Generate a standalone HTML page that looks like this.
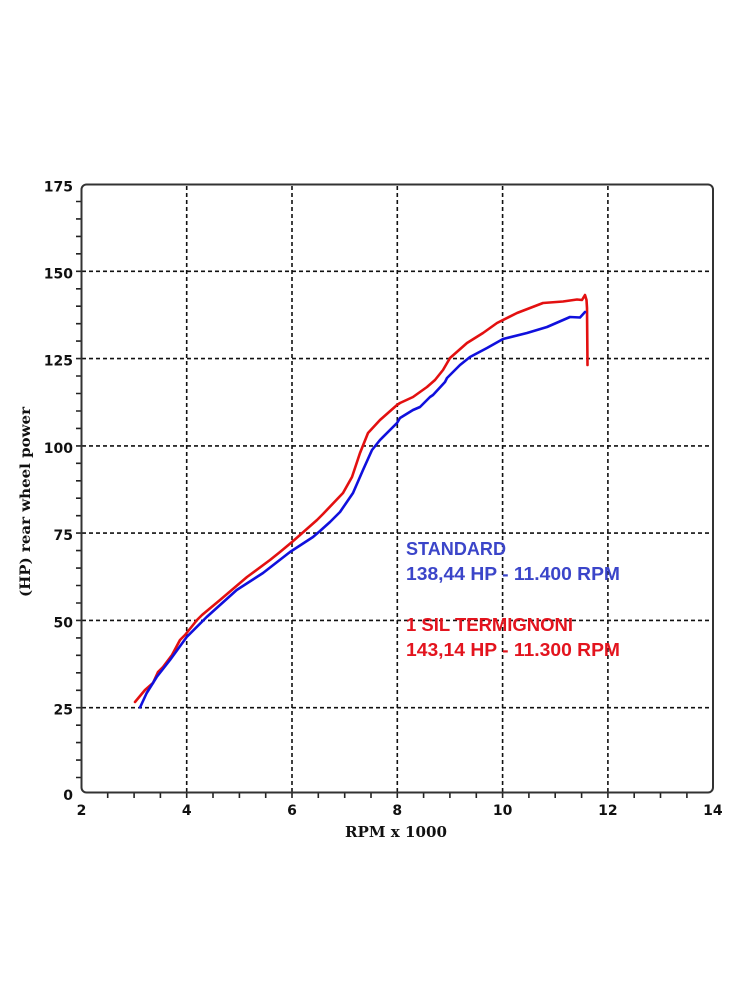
<!DOCTYPE html>
<html>
<head>
<meta charset="utf-8">
<style>
  html,body{margin:0;padding:0;background:#fff;}
  svg{display:block;}
</style>
</head>
<body>
<svg width="750" height="1000" viewBox="0 0 750 1000" xmlns="http://www.w3.org/2000/svg">
  <rect x="0" y="0" width="750" height="1000" fill="#fff"/>

  <!-- grid -->
  <g stroke="#111" stroke-width="1.6" stroke-dasharray="4,3" fill="none">
    <line x1="82" y1="271.3" x2="712" y2="271.3"/>
    <line x1="82" y1="358.6" x2="712" y2="358.6"/>
    <line x1="82" y1="445.9" x2="712" y2="445.9"/>
    <line x1="82" y1="533.1" x2="712" y2="533.1"/>
    <line x1="82" y1="620.4" x2="712" y2="620.4"/>
    <line x1="82" y1="707.7" x2="712" y2="707.7"/>
    <line x1="186.7" y1="186" x2="186.7" y2="792"/>
    <line x1="292.0" y1="186" x2="292.0" y2="792"/>
    <line x1="397.3" y1="186" x2="397.3" y2="792"/>
    <line x1="502.6" y1="186" x2="502.6" y2="792"/>
    <line x1="607.9" y1="186" x2="607.9" y2="792"/>
  </g>

  <!-- ticks -->
  <path stroke="#222" stroke-width="1.6" fill="none" d="
    M76 777.5H81.5 M76 760.1H81.5 M76 742.6H81.5 M76 725.2H81.5 M76 707.7H81.5
    M76 690.3H81.5 M76 672.8H81.5 M76 655.3H81.5 M76 637.9H81.5 M76 620.4H81.5
    M76 603.0H81.5 M76 585.5H81.5 M76 568.1H81.5 M76 550.6H81.5 M76 533.1H81.5
    M76 515.7H81.5 M76 498.2H81.5 M76 480.8H81.5 M76 463.3H81.5 M76 445.9H81.5
    M76 428.4H81.5 M76 411.0H81.5 M76 393.5H81.5 M76 376.0H81.5 M76 358.6H81.5
    M76 341.1H81.5 M76 323.7H81.5 M76 306.2H81.5 M76 288.8H81.5 M76 271.3H81.5
    M76 253.8H81.5 M76 236.4H81.5 M76 218.9H81.5 M76 201.5H81.5
    M107.7 792.5V798 M134.1 792.5V798 M160.4 792.5V798 M186.7 792.5V798
    M213.0 792.5V798 M239.4 792.5V798 M265.7 792.5V798 M292.0 792.5V798
    M318.3 792.5V798 M344.7 792.5V798 M371.0 792.5V798 M397.3 792.5V798
    M423.6 792.5V798 M449.9 792.5V798 M476.3 792.5V798 M502.6 792.5V798
    M528.9 792.5V798 M555.2 792.5V798 M581.6 792.5V798 M607.9 792.5V798
    M634.2 792.5V798 M660.5 792.5V798 M686.9 792.5V798"/>

  <!-- frame -->
  <rect x="81.5" y="184.5" width="631.5" height="608" rx="5" ry="5" fill="none" stroke="#333" stroke-width="2"/>

  <!-- y tick labels -->
  <g font-family="'DejaVu Sans', 'Liberation Sans', sans-serif" font-weight="bold" font-size="14" fill="#111" text-anchor="end">
    <text x="73" y="191.5">175</text>
    <text x="73" y="278.5">150</text>
    <text x="73" y="365.5">125</text>
    <text x="73" y="453">100</text>
    <text x="73" y="540">75</text>
    <text x="73" y="627.5">50</text>
    <text x="73" y="714.5">25</text>
    <text x="73" y="800">0</text>
  </g>
  <!-- x tick labels -->
  <g font-family="'DejaVu Sans', 'Liberation Sans', sans-serif" font-weight="bold" font-size="14" fill="#111" text-anchor="middle">
    <text x="81.5" y="815">2</text>
    <text x="186.7" y="815">4</text>
    <text x="292.0" y="815">6</text>
    <text x="397.3" y="815">8</text>
    <text x="502.6" y="815">10</text>
    <text x="607.9" y="815">12</text>
    <text x="712.9" y="815">14</text>
  </g>

  <!-- axis titles -->
  <text x="345" y="837" font-family="'DejaVu Serif', 'Liberation Serif', serif" font-weight="bold" font-size="15" fill="#111" textLength="102" lengthAdjust="spacingAndGlyphs">RPM x 1000</text>
  <text transform="translate(30,597) rotate(-90)" x="0" y="0" font-family="'DejaVu Serif', 'Liberation Serif', serif" font-weight="bold" font-size="14" fill="#111" textLength="190" lengthAdjust="spacingAndGlyphs">(HP) rear wheel power</text>

  <!-- series -->
  <polyline fill="none" stroke="#e31010" stroke-width="2.6" stroke-linejoin="round" stroke-linecap="round"
    points="135,702 145,690 153,683 158,672 163,667 172,655 180,640 185,635 197,620 202,615 220,600 247,577 270,560 280,552 292,542 300,535 317,520 323,514 343,493 352,477 360,453 368,433 380,420 397,405 400,403 413,397 427,387 435,380 443,370 450,358 467,343 483,333 497,323 517,313 543,303 563,301.5 577,299.5 582,300 585,295 586.5,300 587,308 587.5,365"/>
  <polyline fill="none" stroke="#1010dd" stroke-width="2.6" stroke-linejoin="round" stroke-linecap="round"
    points="140,707.5 146.7,693 156.7,677 170,660 186.7,637 206.7,617 236.7,590 263,573 290,552 313,537 320,531 330,522 340,512 353,493 363,470 372,450 380,440 397,423 400,418 413,410 420,407 430,397 433,395 445,382 447,378 460,365 470,357 487,348 503,339 527,333 547,327 570,317 580,317.5 585,312"/>

  <!-- legend text -->
  <g font-family="'Liberation Sans', sans-serif" font-weight="bold" font-size="18">
    <text x="406" y="555" fill="#3b45c9" textLength="100" lengthAdjust="spacingAndGlyphs">STANDARD</text>
    <text x="406" y="580" fill="#3b45c9" textLength="214" lengthAdjust="spacingAndGlyphs">138,44 HP - 11.400 RPM</text>
    <text x="406" y="631" fill="#e3141e" textLength="167" lengthAdjust="spacingAndGlyphs">1 SIL TERMIGNONI</text>
    <text x="406" y="656" fill="#e3141e" textLength="214" lengthAdjust="spacingAndGlyphs">143,14 HP - 11.300 RPM</text>
  </g>
</svg>
</body>
</html>
